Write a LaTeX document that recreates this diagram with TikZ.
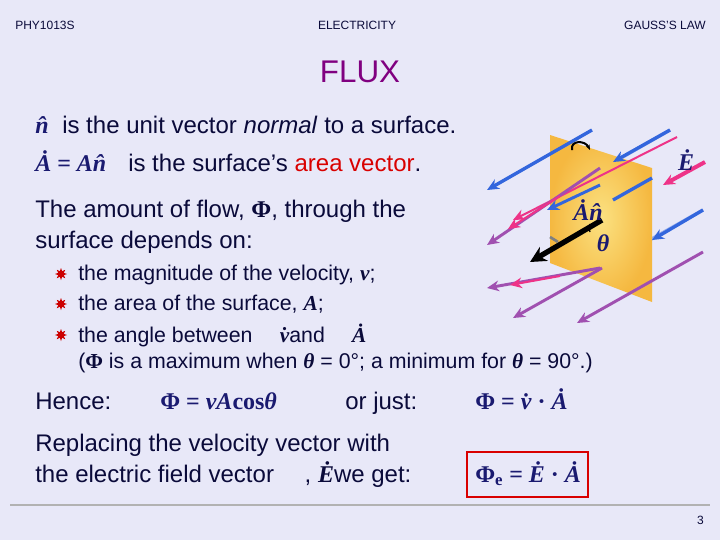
\documentclass[tikz,border=0pt]{standalone}
\usepackage{fontspec}
\setmainfont{Liberation Sans}
\newfontfamily\ser{Liberation Serif}
\usetikzlibrary{shapes.geometric,arrows.meta}
\definecolor{bg}{HTML}{E8E8F8}
\definecolor{ink}{HTML}{0A0A3A}
\definecolor{mathc}{HTML}{1A1A70}
\definecolor{ttl}{HTML}{800080}
\definecolor{bl}{HTML}{3366DD}
\definecolor{pk}{HTML}{EE3388}
\definecolor{pu}{HTML}{A050B0}
\definecolor{orng}{HTML}{F5B840}
\tikzset{
 t/.style={anchor=base west,inner sep=0pt,text=ink,font=\fontsize{18}{21}\selectfont},
 sm/.style={t,font=\fontsize{16}{19}\selectfont},
 hdr/.style={anchor=base,inner sep=0pt,text=ink,font=\fontsize{9}{11}\selectfont},
 mth/.style={t,text=mathc,font=\fontsize{18}{21}\selectfont\ser\bfseries\itshape},
 bul/.style={star,star points=8,star point ratio=2,fill=red!80!black,inner sep=0pt,minimum size=9pt},
 fl/.style={line width=2.2pt,-{Stealth[length=9pt,width=8pt]}},
}
\begin{document}
\begin{tikzpicture}[x=0.75pt,y=-0.75pt]
\fill[bg] (0,0) rectangle (720,540);
\useasboundingbox (0,0) rectangle (720,540);
\node[hdr,anchor=base west] (h1) at (15,29) {PHY1013S};
\node[hdr] (h2) at (357,29) {ELECTRICITY};
\node[hdr,anchor=base east] (h3) at (706,29) {GAUSS'S LAW};
\node[anchor=base,inner sep=0pt,text=ttl,font=\fontsize{23.5}{27}\selectfont] (ti) at (360,82) {FLUX};
% figure: lines behind plane
\draw[bl,line width=2.5pt,opacity=0.45] (670,130) -- (600,170);
\draw[bl,line width=2.5pt,opacity=0.45] (703,210) -- (600,268);
% plane
\shade[inner color=yellow!30!orng!60,outer color=orng] (550,135) -- (652,168) -- (652,302) -- (550,263) -- cycle;
% arrows
\draw[fl,bl,line width=2.5pt] (592,130) -- (487,190);
\draw[fl,bl,line width=2.5pt] (670,130) -- (613,162);
\draw[bl,line width=2.5pt] (652,178) -- (613,200);
\draw[fl,pk,line width=1.5pt] (677,137) -- (513,220);
\draw[fl,bl] (600,185) -- (547,210);
\draw[fl,pu] (600,168) -- (487,245);
\draw[fl,pk,line width=1.5pt] (560,196) -- (508,229);
\draw[fl,bl,line width=2.5pt] (703,210) -- (652,240);
\draw[fl,pu] (600,268) -- (487,288);
\draw[fl,pk,line width=1.5pt] (560,276) -- (510,285);
\draw[fl,pu] (602,268) -- (513,318);
\draw[fl,pu] (703,252) -- (577,323);
\draw[fl,pk,line width=3pt] (705,162) -- (663,185);
% normal vector
\draw[line width=4pt,-{Stealth[length=12pt,width=12pt]}] (602,220) -- (530,262);
\draw[gray,line width=2pt] (550,237) -- (558,242);
\draw[line width=1.5pt,-{Stealth[length=4pt]}] (572,150) .. controls (570,140) and (585,140) .. (590,150);
\draw[line width=1pt] (590,232) arc (150:210:8);
\node[mth,anchor=center] (an) at (588,210) {\.{A}\^{n}};
\node[mth,anchor=center] (th) at (603,243) {θ};
\node[mth,anchor=center] (el) at (686,160) {\.{E}};
% text
\node[mth] (nh) at (35,133) {\^{n}};
\node[t] (l1) at (62,133) {is the unit vector \textit{normal} to a surface.};
\node[mth] (aeq) at (35,171) {\.{A} \upshape= \itshape A\^{n}};
\node[t] (l2) at (128,171) {is the surface’s \textcolor{red!85!black}{area vector}.};
\node[t] (l3) at (35,217) {The amount of flow, {\ser\bfseries Φ}, through the};
\node[t] (l4) at (35,248) {surface depends on:};
\node[bul] (b1) at (61,274) {};
\node[bul] (b2) at (61,304) {};
\node[bul] (b3) at (61,335) {};
\node[sm] (i1) at (78,280) {the magnitude of the velocity, {\ser\bfseries\itshape v};};
\node[sm] (i2) at (78,310) {the area of the surface, {\ser\bfseries\itshape A};};
\node[sm] (i3) at (78,342) {the angle between \quad{\ser\bfseries\itshape \.{v}}and \quad{\ser\bfseries\itshape \.{A}}};
\node[sm] (i4) at (78,368) {({\ser\bfseries Φ} is a maximum when {\ser\bfseries\itshape θ} = 0°; a minimum for {\ser\bfseries\itshape θ} = 90°.)};
\node[t] (hn) at (35,409) {Hence:};
\node[mth] (f1) at (160,409) {\upshape Φ = \itshape vA\upshape cos\itshape θ};
\node[t] (oj) at (345,409) {or just:};
\node[mth] (f2) at (475,409) {\upshape Φ = \itshape \.{v} \upshape· \itshape \.{A}};
\node[t] (r1) at (35,451) {Replacing the velocity vector with};
\node[t] (r2) at (35,482) {the electric field vector \quad , {\ser\bfseries\itshape \.{E}}we get:};
\node[mth] (f3) at (475,482) {\upshape Φ\textsubscript{e} = \itshape \.{E} \upshape· \itshape \.{A}};
\draw[red!85!black,line width=2pt] (467,452) rectangle (588,497);
\draw[gray!60,line width=0.8pt] (10,505) -- (710,505);
\node[hdr,anchor=base east] (pg) at (704,524) {3};
\end{tikzpicture}
\end{document}
